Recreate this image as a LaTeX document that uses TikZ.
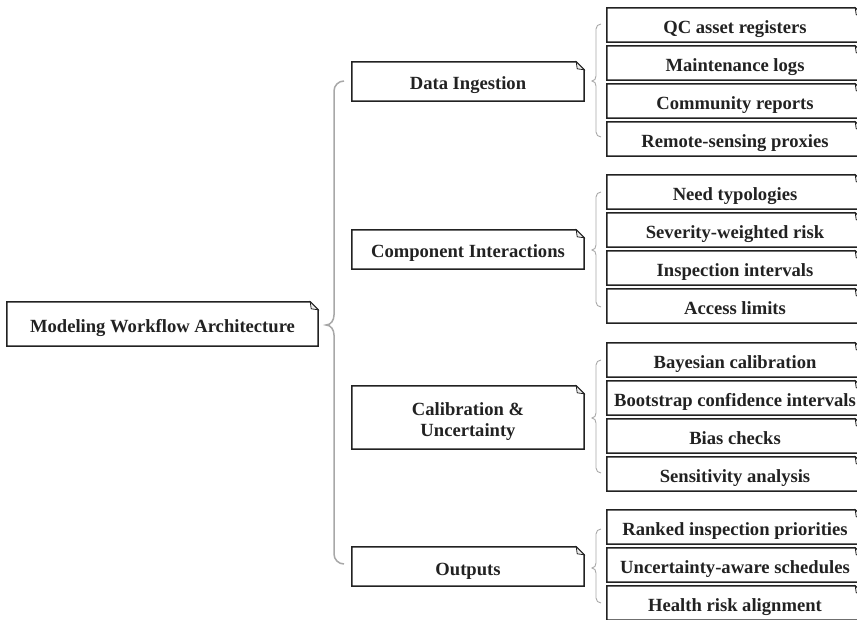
\documentclass[tikz,border=0pt]{standalone}
\usepackage{fontspec}
\setmainfont{Liberation Serif}
\definecolor{boxline}{HTML}{222222}
\definecolor{bracegray}{HTML}{A8A8A8}
\definecolor{foldgray}{HTML}{EDEDED}
\newcommand{\dogear}[1]{%
  \draw[boxstroke] (#1.north west) -- ([xshift=-8pt]#1.north east) -- ([yshift=-8pt]#1.north east) -- (#1.south east) -- (#1.south west) -- cycle;
  \draw[foldstroke] ([xshift=-8pt]#1.north east) -- ([xshift=-7pt,yshift=-7pt]#1.north east) -- ([yshift=-8pt]#1.north east) -- cycle;}
% x, r, ytop, ytip, ybot, style
\newcommand{\curly}[6]{%
  \draw[#6] (#1+#2,#3) to[out=180,in=90] (#1,#3+#2) -- (#1,#4-#2)
    to[out=-90,in=0] (#1-0.8*#2,#4) to[out=0,in=90] (#1,#4+#2) -- (#1,#5-#2)
    to[out=-90,in=180] (#1+#2,#5);}
\begin{document}
\begin{tikzpicture}[x=1pt,y=-1pt,
  boxstroke/.style={draw=boxline,line width=1.5pt,line join=miter},
  foldstroke/.style={draw=boxline,line width=0.8pt,fill=foldgray},
  txt/.style={font=\fontsize{18.6}{21}\selectfont\bfseries,text=boxline,inner sep=0pt,align=center},
  onel/.style={txt,text height=17pt,text depth=0pt},
  root/.style={onel,minimum width=311pt,minimum height=44pt},
  mid/.style={onel,minimum width=232pt,minimum height=39pt},
  leaf/.style={onel,minimum width=256pt,minimum height=34pt},
  bigbrace/.style={draw=bracegray,line width=1.5pt},
  smallbrace/.style={draw=bracegray,line width=0.9pt}]
\useasboundingbox (0,0) rectangle (857,620);
\clip (0,0) rectangle (857,620);
% root
\node[root] (root) at (162.5,324) {Modeling Workflow Architecture};
\dogear{root}
% mid level
\node[mid] (di) at (468,81.5) {Data Ingestion};
\node[mid] (ci) at (468,249.5) {Component Interactions};
\node[txt,minimum width=232pt,minimum height=63pt] (cu) at (468,417.5) {};
\node[txt] (cutext) at (468,422) {Calibration \&\\Uncertainty};
\node[mid] (ou) at (468,566.5) {Outputs};
\foreach \n in {di,ci,cu,ou} {\dogear{\n}}
% leaves
\node[leaf] (l11) at (735,25) {QC asset registers};
\node[leaf] (l12) at (735,63) {Maintenance logs};
\node[leaf] (l13) at (735,101) {Community reports};
\node[leaf] (l14) at (735,139) {Remote-sensing proxies};
\node[leaf] (l21) at (735,192) {Need typologies};
\node[leaf] (l22) at (735,230) {Severity-weighted risk};
\node[leaf] (l23) at (735,268) {Inspection intervals};
\node[leaf] (l24) at (735,306) {Access limits};
\node[leaf] (l31) at (735,360) {Bayesian calibration};
\node[leaf] (l32) at (735,398) {Bootstrap confidence intervals};
\node[leaf] (l33) at (735,436) {Bias checks};
\node[leaf] (l34) at (735,474) {Sensitivity analysis};
\node[leaf] (l41) at (735,527) {Ranked inspection priorities};
\node[leaf] (l42) at (735,565) {Uncertainty-aware schedules};
\node[leaf] (l43) at (735,603) {Health risk alignment};
\foreach \n in {l11,l12,l13,l14,l21,l22,l23,l24,l31,l32,l33,l34,l41,l42,l43} {\dogear{\n}}
% braces
\curly{334}{10}{81}{325}{564}{bigbrace}
\curly{596}{5}{24}{81}{137}{smallbrace}
\curly{596}{5}{192}{250}{307}{smallbrace}
\curly{596}{5}{360}{418}{473}{smallbrace}
\curly{596}{5}{529}{568}{603}{smallbrace}
\end{tikzpicture}
\end{document}
